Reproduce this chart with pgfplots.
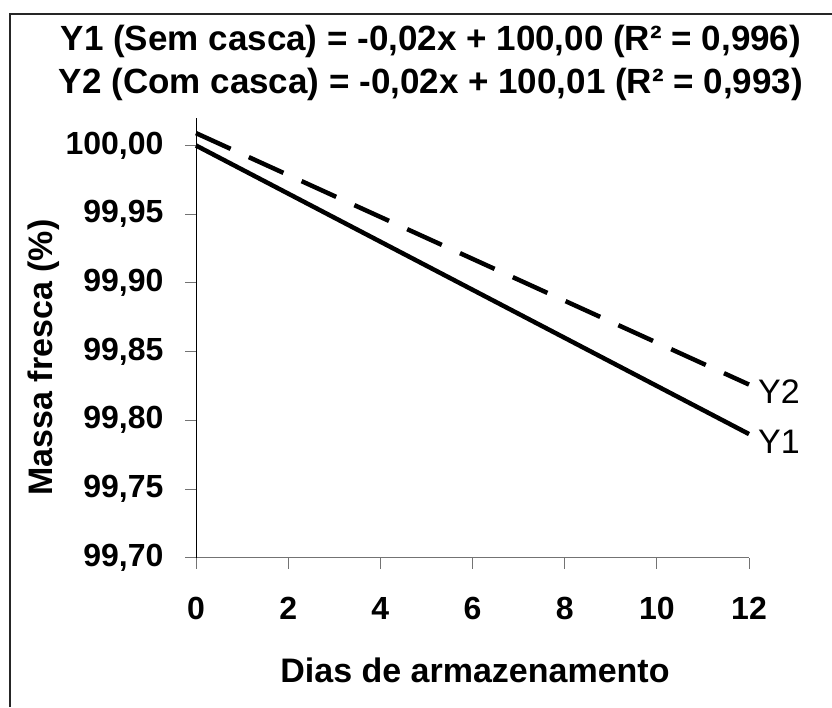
\documentclass[border=0pt]{standalone}
\usepackage{fontspec}
\setmainfont{Liberation Sans}
\usepackage{pgfplots}
\pgfplotsset{compat=1.18}
\begin{document}
\begin{tikzpicture}
\useasboundingbox (0,0) rectangle (832pt,-707pt);
\fill[white] (0,0) rectangle (832pt,-707pt);
\draw[line width=1.5pt, black!85] (10pt,-707pt) -- (10pt,-14pt) -- (832pt,-14pt);
\begin{axis}[
  at={(196pt,-557.7pt)}, anchor=south west,
  scale only axis, width=553pt, height=439.7pt,
  xmin=0, xmax=12, ymin=99.70, ymax=100.02,
  axis lines*=left,
  x axis line style={gray!90!black, line width=1.5pt},
  y axis line style={black, line width=1pt},
  tick align=outside, major tick length=11pt,
  tick style={gray!90!black, line width=1pt},
  xtick={0,2,4,6,8,10,12},
  xticklabels={0,2,4,6,8,10,12},
  ytick={99.70,99.75,99.80,99.85,99.90,99.95,100.00},
  yticklabels={{99,70},{99,75},{99,80},{99,85},{99,90},{99,95},{100,00}},
  ticklabel style={font=\fontsize{32}{36}\selectfont\bfseries},
  xticklabel style={yshift=-25pt},
  yticklabel style={xshift=-18pt},
  clip=false,
]
\addplot[black, line width=4.5pt, line cap=butt] coordinates {(0,100.00) (12,99.79)};
\addplot[black, line width=4.5pt, dash pattern=on 38pt off 20pt] coordinates {(0,100.009) (12,99.826)};
\node[anchor=west, inner sep=0pt, xshift=9pt, yshift=-8pt, font=\fontsize{34}{40}\selectfont] at (axis cs:12,99.79) {Y1};
\node[anchor=west, inner sep=0pt, xshift=9pt, yshift=-7pt, font=\fontsize{34}{40}\selectfont] at (axis cs:12,99.826) {Y2};
\end{axis}
\node[anchor=base, font=\fontsize{35}{40}\selectfont\bfseries] at (431pt,-50pt) {Y1 (Sem casca) = -0,02x + 100,00 (R² = 0,996)};
\node[anchor=base, font=\fontsize{35}{40}\selectfont\bfseries] at (431pt,-93pt) {Y2 (Com casca) = -0,02x + 100,01 (R² = 0,993)};
\node[anchor=base, font=\fontsize{34}{40}\selectfont\bfseries] at (475pt,-682pt) {Dias de armazenamento};
\node[anchor=base, rotate=90, font=\fontsize{34}{40}\selectfont\bfseries] at (52pt,-357.5pt) {Massa fresca (\%)};
\end{tikzpicture}
\end{document}
